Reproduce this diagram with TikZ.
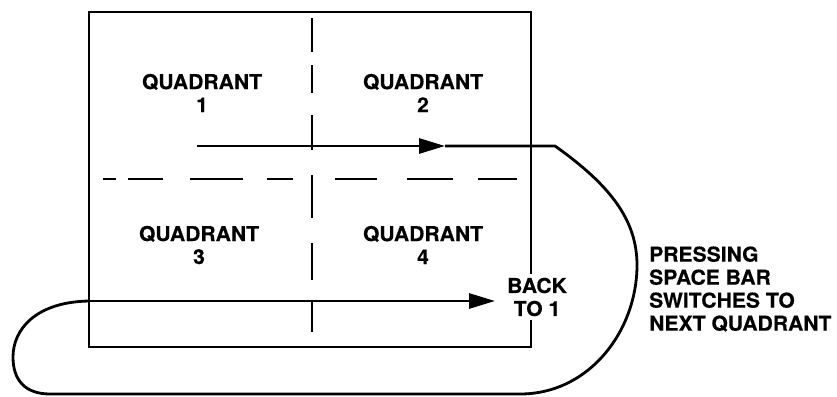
\documentclass[tikz,border=0pt]{standalone}
\usepackage{fontspec}
\setmainfont{TeX Gyre Heros}[BoldFeatures={FakeStretch=1.03,FakeBold=0.3}]
\usetikzlibrary{arrows.meta}

\begin{document}
\begin{tikzpicture}[x=1pt,y=-1pt,
  lbl/.style={font=\bfseries\fontsize{20.5}{23}\selectfont, align=center, inner sep=0pt},
  frame/.style={line width=2.5pt},
  divider/.style={line width=2.5pt},
  flow/.style={line width=2.8pt, line join=round},
  tip/.style={-{Triangle[length=26pt,width=15pt]}}]
\useasboundingbox[fill=white] (0,0) rectangle (837,396);

% screen outline
\draw[frame] (89,12) rectangle (531,347);

% quadrant dividers
\draw[divider, dash pattern=on 34pt off 13pt on 28pt off 22pt on 35pt off 25pt on 43pt off 25pt on 37pt off 22pt on 30pt off 40pt]
  (312,18) -- (312,332);
\draw[divider, dash pattern=on 13pt off 12pt on 35pt off 27pt on 53pt off 24pt on 26pt off 42pt on 42pt off 30pt on 46pt off 25pt on 39pt off 40pt]
  (103,179) -- (517,179);

% quadrant labels
\node[lbl] (q1) at (202,93) {QUADRANT\\1};
\node[lbl] (q2) at (423,93) {QUADRANT\\2};
\node[lbl] (q3) at (199,245) {QUADRANT\\3};
\node[lbl] (q4) at (423,245) {QUADRANT\\4};

% cycling path through the quadrants
\coordinate (s1) at (197,146);
\coordinate (t1) at (445,146);
\coordinate (c1) at (555,146);
\coordinate (r1) at (637,265);
\coordinate (b1) at (520,394);
\coordinate (b2) at (50,394);
\coordinate (l1) at (13,357);
\coordinate (s2) at (89,301);
\coordinate (t2) at (495,301);

\draw[flow] (t1) -- (c1)
  .. controls (610,185) and (637,220) .. (r1)
  .. controls (637,330) and (590,394) .. (b1)
  -- (b2)
  .. controls (25,394) and (13,380) .. (l1)
  .. controls (13,330) and (35,302) .. (s2);
\draw[flow, tip] (s1) -- (t1);
\draw[flow, tip] (s2) -- (t2);

\node[lbl, fill=white, inner sep=4pt] (back) at (537,297) {BACK\\TO 1};
\node[lbl, align=left, anchor=west] (note) at (649,289)
  {PRESSING\\SPACE BAR\\SWITCHES TO\\NEXT QUADRANT};
\end{tikzpicture}
\end{document}
